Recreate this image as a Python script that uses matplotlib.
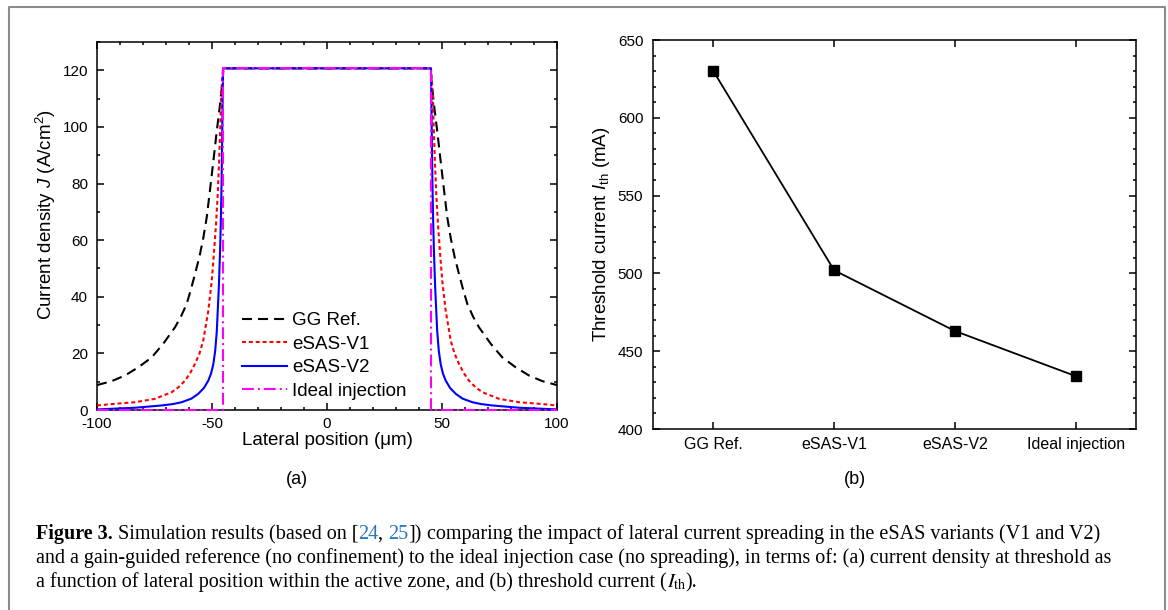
import matplotlib
matplotlib.use('Agg')
import matplotlib.pyplot as plt
from matplotlib.ticker import MultipleLocator, FixedLocator
import numpy as np

plt.rcParams['font.family'] = 'Liberation Sans'
plt.rcParams['axes.unicode_minus'] = False
plt.rcParams['mathtext.fontset'] = 'custom'
plt.rcParams['mathtext.rm'] = 'Liberation Sans'
plt.rcParams['mathtext.it'] = 'Liberation Sans:italic'

# half profiles: distance from stripe centre (um) and current density (A/cm^2)
dist_gg = [0, 45.0, 45.35, 46.5, 48.0, 49.4, 50.9, 52.3, 53.8, 55.5, 57.4, 59.2, 61.0, 63.5, 66.1, 71.2, 76.2, 82.0, 87.8, 93.6, 100]
j_gg = [120.7, 120.7, 116.8, 108, 98, 88, 77.5, 68, 60.7, 54, 48, 42.5, 37.5, 33, 29.2, 23.4, 18.6, 15.1, 12.2, 10.2, 8.8]

dist_v1 = [0, 45.2, 46.0, 46.4, 46.9, 47.5, 48.3, 49.2, 50.1, 51.6, 53.8, 55.5, 57.4, 59.5, 61.7, 64.5, 67.5, 74.8, 83.5, 92.2, 100]
j_v1 = [120.7, 120.7, 111.5, 99.8, 88, 76.3, 65, 55, 45.7, 35.1, 24.5, 19.8, 16.3, 13.0, 10.4, 8.1, 6.3, 3.95, 2.75, 2.2, 1.6]

dist_v2 = [0, 45.2, 45.4, 45.6, 45.85, 46.15, 46.5, 47.0, 47.9, 48.6, 49.4, 50.4, 51.6, 53.5, 56.0, 59.0, 63.2, 67.0, 71.9, 83.5, 100]
j_v2 = [120.7, 120.7, 108, 94, 80, 67, 56, 44, 28, 21, 16.3, 12.9, 10.4, 7.8, 5.7, 4.0, 2.75, 2.1, 1.6, 0.8, 0.2]

dist_ideal = [0, 45.4, 45.4, 100]
j_ideal = [120.7, 120.7, 0, 0]

categories = ['GG Ref.', 'eSAS-V1', 'eSAS-V2', 'Ideal injection']
i_th = [630, 502, 463, 434]

labels_a = ['GG Ref.', 'eSAS-V1', 'eSAS-V2', 'Ideal injection']


def full(d, j):
    d = np.asarray(d, float)
    j = np.asarray(j, float)
    return np.concatenate([-d[::-1], d[1:]]), np.concatenate([j[::-1], j[1:]])


W, H = 1168, 610
fig = plt.figure(figsize=(W / 100, H / 100), dpi=100)

# grey frame round the figure (bottom edge is cut off in the original)
fig.add_artist(plt.Line2D([9 / W, 9 / W, 1165 / W, 1165 / W], [0, 1 - 7 / H, 1 - 7 / H, 0],
                          transform=fig.transFigure, color='#8c8c8c', lw=1.5))


def style_axes(ax):
    for s in ax.spines.values():
        s.set_linewidth(1.1)
    ax.tick_params(which='both', direction='in', top=True, right=True, width=1.1, labelsize=11)
    ax.tick_params(which='major', length=5)
    ax.tick_params(which='minor', length=2.5)


# ---- panel (a)
ax1 = fig.add_axes([97 / W, 1 - 410 / H, 460 / W, 368 / H])
style_axes(ax1)
x, y = full(dist_gg, j_gg)
ax1.plot(x, y, color='k', lw=1.5, dashes=(4.8, 2.9), label=labels_a[0], zorder=3)
x, y = full(dist_v1, j_v1)
ax1.plot(x, y, color='#ff0000', lw=1.5, dashes=(1.9, 1.4), label=labels_a[1], zorder=3)
x, y = full(dist_v2, j_v2)
ax1.plot(x, y, color='#0000ff', lw=1.5, label=labels_a[2], zorder=3)
x, y = full(dist_ideal, j_ideal)
ax1.plot(x, y, color='#ff00ff', lw=1.5, dashes=(5.7, 1.9, 1, 1.9), label=labels_a[3], zorder=3, clip_on=False)
ax1.set_xlim(-100, 100)
ax1.set_ylim(0, 130)
ax1.xaxis.set_major_locator(MultipleLocator(50))
ax1.xaxis.set_minor_locator(MultipleLocator(10))
ax1.yaxis.set_major_locator(MultipleLocator(20))
ax1.yaxis.set_minor_locator(MultipleLocator(10))
ax1.tick_params(axis='x', pad=5)
ax1.tick_params(axis='y', pad=6.5)
ax1.set_xlabel('Lateral position (\u03bcm)', fontsize=13.5, labelpad=1)
ax1.set_ylabel(r'Current density $\mathit{J}$ (A/cm$^2$)', fontsize=13.5, labelpad=3)
ax1.yaxis.label.set_y(0.53)
ax1.legend(loc='upper left', bbox_to_anchor=(242 / W, 1 - 312 / H), bbox_transform=fig.transFigure,
           frameon=False, fontsize=13.5, handlelength=2.4, handletextpad=0.27, labelspacing=0.34,
           borderpad=0, borderaxespad=0)

# ---- panel (b)
ax2 = fig.add_axes([653 / W, 1 - 429 / H, 483 / W, 389 / H])
style_axes(ax2)
xpos = np.arange(len(categories))
ax2.plot(xpos, i_th, color='k', lw=1.3, marker='s', markersize=7.5, zorder=3)
ax2.set_xlim(-0.5, len(categories) - 0.5)
ax2.set_ylim(400, 650)
ax2.xaxis.set_major_locator(FixedLocator(xpos))
ax2.set_xticklabels(categories)
ax2.yaxis.set_major_locator(MultipleLocator(50))
ax2.yaxis.set_minor_locator(MultipleLocator(10))
ax2.tick_params(axis='x', labelsize=11.5, pad=6)
ax2.tick_params(axis='y', pad=7)
ax2.set_ylabel(r'Threshold current $\mathit{I}_{\mathrm{th}}$ (mA)', fontsize=13.5, labelpad=4)

fig.text(297 / W, 1 - 480 / H, '(a)', ha='center', va='center', fontsize=13)
fig.text(855 / W, 1 - 480 / H, '(b)', ha='center', va='center', fontsize=13)

# ---- caption, laid out piece by piece
renderer = fig.canvas.get_renderer()
cap_size = 14.5
serif = 'Liberation Serif'
blue = '#2878b8'


def advance(s, **kw):
    t1 = fig.text(0, 0, '.' + s + '.', fontsize=cap_size, family=serif, **kw)
    t2 = fig.text(0, 0, '..', fontsize=cap_size, family=serif, **kw)
    w = t1.get_window_extent(renderer).width - t2.get_window_extent(renderer).width
    t1.remove()
    t2.remove()
    return w


def put_line(x0, ybase, parts):
    xp = x0
    for s, kw in parts:
        fig.text(xp / W, 1 - ybase / H, s, fontsize=cap_size, family=serif, va='baseline', **kw)
        xp += advance(s, **kw)


put_line(36, 539, [('Figure 3.', dict(fontweight='bold')),
                   (' Simulation results (based on [', {}),
                   ('24', dict(color=blue)),
                   (', ', {}),
                   ('25', dict(color=blue)),
                   ('])', {}),
                   (' comparing the impact of lateral current spreading in the eSAS variants (V1 and V2)', {})])
put_line(36, 563, [('and a gain-guided reference (no confinement) to the ideal injection case (no spreading), '
                    'in terms of: (a) current density at threshold as', {})])
put_line(36, 587, [('a function of lateral position within the active zone, and (b) threshold current (', {}),
                   (r'$I_{\mathrm{th}}$', dict(math_fontfamily='stix')),
                   (').', {})])

fig.savefig('out.png', dpi=100)
